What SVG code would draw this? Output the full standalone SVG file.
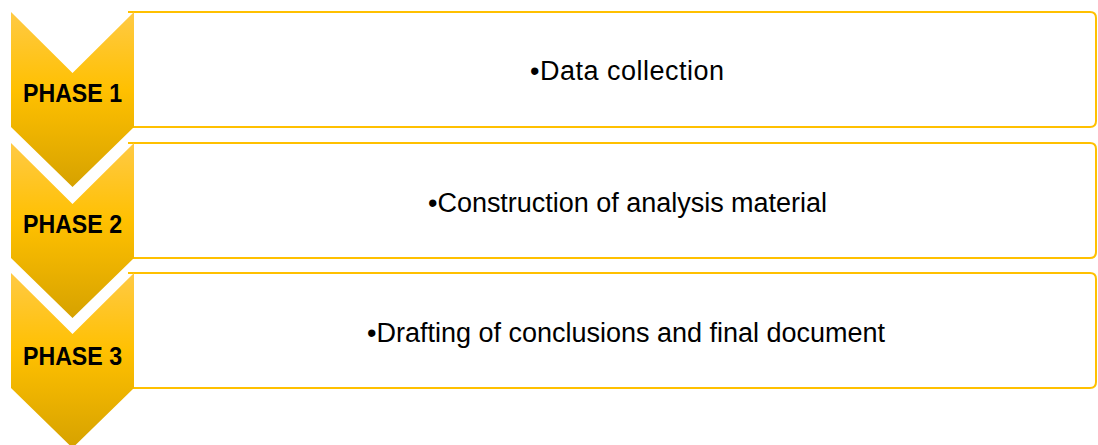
<svg xmlns="http://www.w3.org/2000/svg" width="1098" height="445" viewBox="0 0 1098 445">
<style>
.box{fill:#FFFFFF;stroke:#FFC000;stroke-width:2}
.chev{fill:url(#gold)}
.ph{font-family:"Liberation Sans",Arial,sans-serif;font-weight:bold;font-size:25px;fill:#000000;text-anchor:middle}
.tx{font-family:"Liberation Sans",Arial,sans-serif;font-size:27px;fill:#000000;text-anchor:middle}
</style>
<defs>
<linearGradient id="gold" x1="0" y1="0" x2="0" y2="1">
<stop offset="0" stop-color="#FFCA45"/>
<stop offset="0.45" stop-color="#FFC000"/>
<stop offset="1" stop-color="#D6A200"/>
</linearGradient>
</defs>
<rect width="1098" height="445" fill="#FFFFFF"/>
<g id="phase1">
<path class="box" d="M128,12 H1090 Q1096,12 1096,18 V121 Q1096,127 1090,127 H128"/>
<path class="chev" d="M11,12 L72.5,73 L134,12 V127 L72.5,187 L11,127 Z"/>
<text class="ph" x="72.5" y="102" textLength="99" lengthAdjust="spacingAndGlyphs">PHASE 1</text>
<text class="tx" x="627" y="80" textLength="194">•Data collection</text>
</g>
<g id="phase2">
<path class="box" d="M128,143 H1090 Q1096,143 1096,149 V252 Q1096,258 1090,258 H128"/>
<path class="chev" d="M11,143 L72.5,204 L134,143 V258 L72.5,318 L11,258 Z"/>
<text class="ph" x="72.5" y="233" textLength="99" lengthAdjust="spacingAndGlyphs">PHASE 2</text>
<text class="tx" x="627.5" y="212" textLength="399">•Construction of analysis material</text>
</g>
<g id="phase3">
<path class="box" d="M128,273 H1090 Q1096,273 1096,279 V382 Q1096,388 1090,388 H128"/>
<path class="chev" d="M11,273 L72.5,334 L134,273 V388 L72.5,448 L11,388 Z"/>
<text class="ph" x="72.5" y="365" textLength="99" lengthAdjust="spacingAndGlyphs">PHASE 3</text>
<text class="tx" x="626" y="342" textLength="518">•Drafting of conclusions and final document</text>
</g>
<g id="connectors"></g>
</svg>
